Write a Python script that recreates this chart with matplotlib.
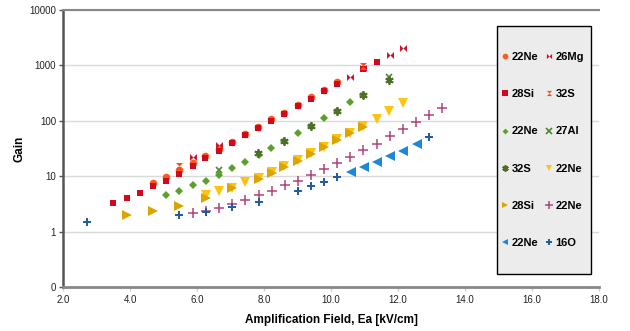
import matplotlib
matplotlib.use("Agg")
import matplotlib.pyplot as plt
from matplotlib.ticker import FixedLocator, NullLocator
from matplotlib.path import Path
from matplotlib.patches import Rectangle

plt.rcParams['font.family'] = ['Liberation Sans', 'DejaVu Sans']

# ---- data ----
ne22_circ_x = [4.7, 5.07, 5.47, 5.87, 6.25, 6.65, 7.04, 7.44, 7.83, 8.22, 8.61, 9.0, 9.4, 9.79, 10.18]
ne22_circ_y = [7.6, 9.8, 13, 17, 23, 31, 42, 57, 78, 106, 141, 193, 265, 362, 495]

mg26_x = [5.87, 6.65, 10.58, 10.96, 11.76, 12.15]
mg26_y = [22, 36, 630, 900, 1570, 2070]

si28_sq_x = [3.5, 3.9, 4.3, 4.7, 5.07, 5.47, 5.87, 6.25, 6.65, 7.04, 7.44, 7.83, 8.22, 8.61, 9.0, 9.4, 9.79, 10.18, 10.96, 11.36]
si28_sq_y = [3.3, 4.0, 5.0, 6.6, 8.3, 11, 15, 21, 28, 40, 55, 75, 100, 135, 185, 250, 340, 470, 850, 1150]

s32_hg_x = [5.47, 10.96]
s32_hg_y = [15.5, 960]

ne22_dia_x = [5.07, 5.47, 5.87, 6.27, 6.66, 7.05, 7.44, 7.84, 8.22, 8.61, 9.0, 9.4, 9.79, 10.18, 10.58, 10.96]
ne22_dia_y = [4.5, 5.3, 6.8, 8.3, 10.7, 13.9, 18.4, 24, 32.5, 44, 59, 82, 113, 152, 219, 297]

al27_x = [6.66, 11.74]
al27_y = [13, 620]

s32_ast_x = [7.83, 8.61, 9.4, 10.18, 10.96, 11.74]
s32_ast_y = [26, 44, 82, 152, 297, 548]

ne22_down_x = [6.27, 6.66, 7.05, 7.44, 7.84, 8.24, 8.61, 9.0, 9.4, 9.79, 10.18, 10.58, 10.96, 11.36, 11.74, 12.15]
ne22_down_y = [4.65, 5.3, 6.2, 7.8, 9.4, 12, 15, 20, 26, 34, 46, 61, 80, 108, 148, 207]

si28_right_x = [3.9, 4.68, 5.47, 6.27, 7.05, 7.84, 8.24, 8.61, 9.0, 9.4, 9.79, 10.18, 10.58, 10.96]
si28_right_y = [2.03, 2.33, 2.95, 4.06, 6.0, 9.0, 11.5, 14.5, 19, 25.5, 33, 45, 59, 78]

ne22_plus_x = [5.87, 6.27, 6.66, 7.05, 7.44, 7.84, 8.24, 8.62, 9.0, 9.4, 9.79, 10.19, 10.58, 10.96, 11.36, 11.75, 12.15, 12.54, 12.94, 13.3]
ne22_plus_y = [2.14, 2.39, 2.68, 3.16, 3.78, 4.6, 5.5, 6.85, 8.3, 10.6, 13.5, 17.4, 22.6, 30, 38, 54, 71, 97, 128, 171]

ne22_left_x = [10.59, 10.99, 11.38, 11.76, 12.16, 12.56]
ne22_left_y = [11.8, 14.9, 18.3, 23.5, 29, 38]

o16_x = [2.73, 5.47, 6.27, 7.05, 7.84, 9.0, 9.4, 9.79, 10.18, 12.94]
o16_y = [1.51, 2.03, 2.3, 2.75, 3.48, 5.5, 6.6, 8.0, 9.8, 50]

x_ticks = [2, 4, 6, 8, 10, 12, 14, 16, 18]
x_tick_labels = ['2.0', '4.0', '6.0', '8.0', '10.0', '12.0', '14.0', '16.0', '18.0']
y_ticks = [0.1, 1, 10, 100, 1000, 10000]
y_tick_labels = ['0', '1', '10', '100', '1000', '10000']

# ---- custom markers ----
bowtie = Path([(-1, -1), (-1, 1), (0, 0), (1, 1), (1, -1), (0, 0), (-1, -1)],
              [Path.MOVETO] + [Path.LINETO] * 5 + [Path.CLOSEPOLY])
hourglass = Path([(-1, 1), (1, 1), (0, 0), (1, -1), (-1, -1), (0, 0), (-1, 1)],
                 [Path.MOVETO] + [Path.LINETO] * 5 + [Path.CLOSEPOLY])

W, H = 630, 331
fig = plt.figure(figsize=(6.3, 3.31), dpi=100)
ax = fig.add_axes([63 / W, 1 - 287 / H, (599 - 63) / W, (287 - 10) / H])

ax.set_yscale('log')
ax.set_xlim(2, 18)
ax.set_ylim(0.1, 10000)

h = {}
h['ne22c'], = ax.plot(ne22_circ_x, ne22_circ_y, 'o', color='#ff5a1e', ms=5.5, mew=0, label='22Ne')
h['si28s'], = ax.plot(si28_sq_x, si28_sq_y, 's', color='#d2081c', ms=5, mew=0, label='28Si')
h['mg26'], = ax.plot(mg26_x, mg26_y, marker=bowtie, ls='none', color='#d0102a', ms=5, mew=0, label='26Mg')
h['s32h'], = ax.plot(s32_hg_x, s32_hg_y, marker=hourglass, ls='none', color='#ff4a1e', ms=5, mew=0, label='32S')
h['ne22d'], = ax.plot(ne22_dia_x, ne22_dia_y, 'D', color='#5aa02a', ms=4, mew=0, label='22Ne')
h['al27'], = ax.plot(al27_x, al27_y, 'x', color='#4a8a2a', ms=5, mew=1.2, label='27Al')
h['s32a'], = ax.plot(s32_ast_x, s32_ast_y, marker=(6, 2, 0), ls='none', color='#4f6e2a', ms=6, mew=1.3, label='32S')
h['ne22v'], = ax.plot(ne22_down_x, ne22_down_y, 'v', color='#ffc20e', ms=6.5, mew=0, label='22Ne')
h['si28r'], = ax.plot(si28_right_x, si28_right_y, '>', color='#dca400', ms=6.5, mew=0, label='28Si')
h['ne22p'], = ax.plot(ne22_plus_x, ne22_plus_y, '+', color='#b0457a', ms=7, mew=1.1, label='22Ne')
h['ne22l'], = ax.plot(ne22_left_x, ne22_left_y, '<', color='#1e88d8', ms=6.5, mew=0, label='22Ne')
h['o16'], = ax.plot(o16_x, o16_y, '+', color='#1f5a9e', ms=6, mew=1.4, label='16O')

# axes styling
ax.yaxis.set_major_locator(FixedLocator(y_ticks))
ax.yaxis.set_minor_locator(NullLocator())
ax.set_yticklabels(y_tick_labels)
ax.set_xticks(x_ticks)
ax.set_xticklabels(x_tick_labels)
ax.tick_params(axis='both', labelsize=7, colors='#222222')
ax.tick_params(axis='y', length=3, width=1, color='#555555', pad=2)
ax.tick_params(axis='x', length=3, width=1, color='#cccccc', pad=3)
ax.grid(axis='y', color='#d9d9d9', lw=1)
ax.set_axisbelow(True)
ax.spines['right'].set_visible(False)
ax.spines['top'].set_color('#888888')
ax.spines['top'].set_linewidth(1.5)
ax.spines['left'].set_color('#555555')
ax.spines['left'].set_linewidth(1.8)
ax.spines['bottom'].set_color('#888888')
ax.spines['bottom'].set_linewidth(2)

ax.set_xlabel('Amplification Field, Ea [kV/cm]', fontsize=8.5, fontweight='bold', labelpad=6)
ax.set_ylabel('Gain', fontsize=8.5, fontweight='bold', labelpad=3)

# legend box
box = Rectangle((497 / W, 1 - 274 / H), (591 - 497) / W, (274 - 26) / H,
                transform=fig.transFigure, facecolor='#ececec', edgecolor='#000000',
                lw=1, zorder=5)
fig.add_artist(box)

order = ['ne22c', 'si28s', 'ne22d', 's32a', 'si28r', 'ne22l',
         'mg26', 's32h', 'al27', 'ne22v', 'ne22p', 'o16']
leg = fig.legend([h[k] for k in order], [h[k].get_label() for k in order],
                 ncol=2, loc='upper left',
                 bbox_to_anchor=(501 / W, 1 - 52 / H), bbox_transform=fig.transFigure,
                 prop={'size': 8, 'weight': 'bold'}, markerscale=0.75,
                 frameon=False, borderpad=0, labelspacing=2.45, handlelength=0.7,
                 handletextpad=0.25, columnspacing=0.6, borderaxespad=0)
leg.set_zorder(6)

fig.savefig('out.png', dpi=100)
